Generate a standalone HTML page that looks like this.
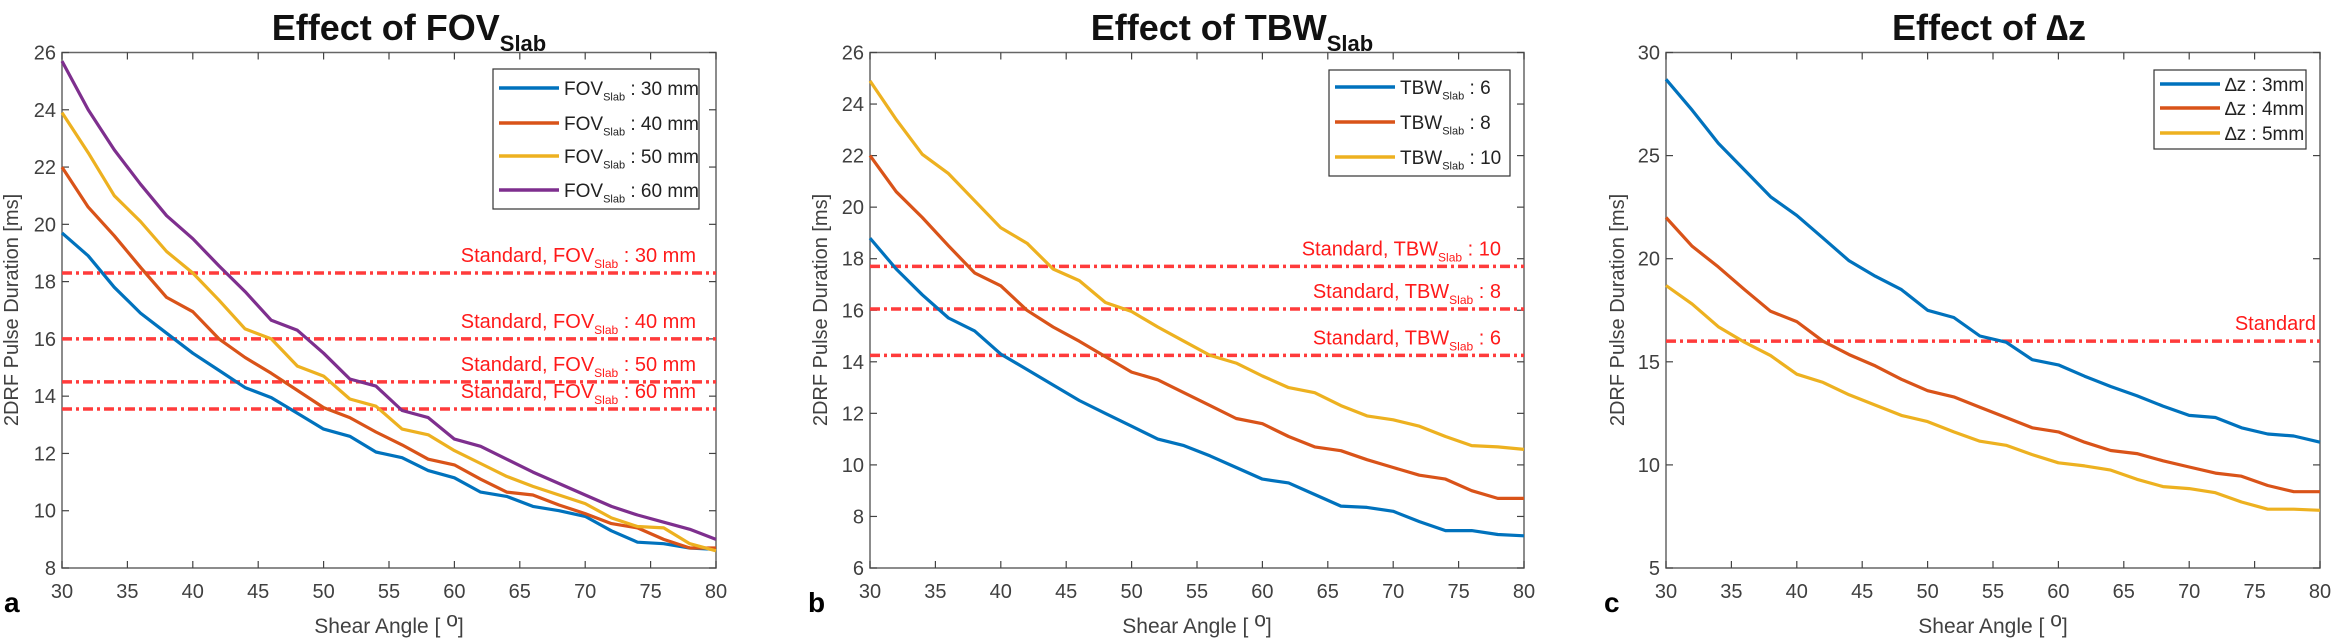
<!DOCTYPE html>
<html><head><meta charset="utf-8"><style>
html,body{margin:0;padding:0;background:#fff;}
svg{display:block;font-family:"Liberation Sans",sans-serif;}
</style></head><body>
<svg id="fig" width="2331" height="644" viewBox="0 0 2331 644" xmlns="http://www.w3.org/2000/svg"></svg>
<script>
const xValues = [30,32,34,36,38,40,42,44,46,48,50,52,54,56,58,60,62,64,66,68,70,72,74,76,78,80];
const xTicks = [30,35,40,45,50,55,60,65,70,75,80];

const aFov30 = [19.7,18.9,17.8,16.9,16.2,15.5,14.9,14.3,13.95,13.4,12.85,12.6,12.05,11.85,11.4,11.15,10.65,10.5,10.15,10.0,9.8,9.3,8.9,8.85,8.7,8.65];
const aFov40 = [22.0,20.6,19.6,18.5,17.45,16.95,16.0,15.35,14.8,14.2,13.6,13.25,12.75,12.3,11.8,11.6,11.1,10.65,10.55,10.2,9.9,9.55,9.4,9.0,8.7,8.7];
const aFov50 = [23.9,22.5,21.0,20.1,19.05,18.3,17.35,16.35,16.0,15.05,14.7,13.9,13.65,12.85,12.65,12.1,11.65,11.2,10.85,10.55,10.25,9.75,9.45,9.4,8.85,8.6];
const aFov60 = [25.7,24.0,22.6,21.4,20.3,19.5,18.55,17.65,16.65,16.3,15.5,14.6,14.35,13.5,13.25,12.5,12.25,11.8,11.35,10.95,10.55,10.15,9.85,9.6,9.35,9.0];
const aStandards = [18.3,16.0,14.5,13.55];
const aStdLabels = ["30 mm","40 mm","50 mm","60 mm"];
const aYTicks = [8,10,12,14,16,18,20,22,24,26];

const bTbw6 = [18.8,17.6,16.6,15.7,15.2,14.3,13.7,13.1,12.5,12.0,11.5,11.0,10.75,10.35,9.9,9.45,9.3,8.85,8.4,8.35,8.2,7.8,7.45,7.45,7.3,7.25];
const bTbw8 = [22.0,20.6,19.6,18.5,17.45,16.95,16.0,15.35,14.8,14.2,13.6,13.3,12.8,12.3,11.8,11.6,11.1,10.7,10.55,10.2,9.9,9.6,9.45,9.0,8.7,8.7];
const bTbw10 = [24.9,23.4,22.05,21.3,20.25,19.2,18.6,17.6,17.15,16.3,15.95,15.35,14.8,14.25,13.95,13.45,13.0,12.8,12.3,11.9,11.75,11.5,11.1,10.75,10.7,10.6];
const bStandards = [17.7,16.05,14.25];
const bStdLabels = ["10","8","6"];
const bYTicks = [6,8,10,12,14,16,18,20,22,24,26];

const cDz3 = [28.7,27.2,25.6,24.3,23.0,22.1,21.0,19.9,19.15,18.5,17.5,17.15,16.25,15.95,15.1,14.85,14.3,13.8,13.35,12.85,12.4,12.3,11.8,11.5,11.4,11.1];
const cDz4 = [22.0,20.6,19.6,18.5,17.45,16.95,16.0,15.35,14.8,14.15,13.6,13.3,12.8,12.3,11.8,11.6,11.1,10.7,10.55,10.2,9.9,9.6,9.45,9.0,8.7,8.7];
const cDz5 = [18.7,17.8,16.7,15.95,15.3,14.4,14.0,13.4,12.9,12.4,12.1,11.6,11.15,10.95,10.5,10.1,9.95,9.75,9.3,8.95,8.85,8.65,8.2,7.85,7.85,7.8];
const cStandards = [16.0];
const cYTicks = [5,10,15,20,25,30];

const BLUE="#0072BD", ORANGE="#D95319", YELLOW="#EDB120", PURPLE="#7E2F8E", RED="#ff3b3b";
const NS="http://www.w3.org/2000/svg";
const svg=document.getElementById('fig');
function mk(tag,attrs,parent){const e=document.createElementNS(NS,tag);for(const k in attrs)e.setAttribute(k,attrs[k]);(parent||svg).appendChild(e);return e;}
function txt(parent,x,y,size,fill,anchor,parts,weight){
  const t=mk('text',{x:x,y:y,'font-size':size,fill:fill,'text-anchor':anchor,'font-weight':weight||'normal'},parent);
  parts.forEach(p=>{const s=mk('tspan',{},t);s.textContent=p[0];if(p[1]==='sub'){s.setAttribute('font-size',Math.round(size*0.6));s.setAttribute('dy',size*0.3);}else if(p[1]==='up'){s.setAttribute('dy',-size*0.3);}});
  return t;
}

function panel(cfg){
  const g=mk('g',{});
  
  
  const L=cfg.left,R=cfg.left+654,T=52.5,B=568;
  const xs=v=>L+(v-30)/(80-30)*(R-L);
  const ys=v=>B-(v-cfg.ymin)/(cfg.ymax-cfg.ymin)*(B-T);
  // title
  const tt=txt(g,cfg.titleX,40,36,'#111','middle',cfg.title,'bold');
  
  
  // axes box
  const box=mk('rect',{x:L,y:T,width:R-L,height:B-T,fill:'none',stroke:'#666','stroke-width':1.5},g);
  
  
  xTicks.forEach(v=>{
    const x=xs(v);
    mk('line',{x1:x,y1:B,x2:x,y2:B-7,stroke:'#444','stroke-width':1.2},g);
    mk('line',{x1:x,y1:T,x2:x,y2:T+7,stroke:'#444','stroke-width':1.2},g);
    const l=txt(g,x,598,20,'#404040','middle',[[String(v)]]);
    
    
  });
  cfg.yTicks.forEach(v=>{
    const y=ys(v);
    mk('line',{x1:L,y1:y,x2:L+7,y2:y,stroke:'#444','stroke-width':1.2},g);
    mk('line',{x1:R,y1:y,x2:R-7,y2:y,stroke:'#444','stroke-width':1.2},g);
    const l=txt(g,L-6,y+7,20,'#404040','end',[[String(v)]]);
    
    
  });
  // standards
  cfg.standards.forEach((v,i)=>{
    const y=ys(v);
    const sl=mk('line',{x1:L,y1:y,x2:R,y2:y,stroke:RED,'stroke-width':3.5,'stroke-dasharray':'10,4,3,4'},g);
    
    
    const lab=txt(g,cfg.stdRight,y-11,20,'#ff1a1a','end',cfg.stdLabel(i));
    
    
  });
  // series
  cfg.series.forEach(s=>{
    const d=s.data.map((v,i)=>(i?'L':'M')+xs(xValues[i]).toFixed(1)+','+ys(v).toFixed(1)).join(' ');
    const p=mk('path',{d:d,fill:'none',stroke:s.color,'stroke-width':3.2,'stroke-linejoin':'round'},g);
    
    
  });
  // legend
  const lg=cfg.legend;
  const lr=mk('rect',{x:lg.x,y:lg.y,width:lg.w,height:lg.h,fill:'#fff',stroke:'#333','stroke-width':1.2},g);
  
  
  cfg.series.forEach((s,i)=>{
    const y=lg.rows[i];
    mk('line',{x1:lg.x+6,y1:y,x2:lg.x+66,y2:y,stroke:s.color,'stroke-width':3.5},g);
    const t=txt(g,lg.x+71,y+7,19,'#222','start',s.label);
    
    
  });
  // axis labels
  const yl=mk('text',{x:0,y:0,'font-size':20,fill:'#404040','text-anchor':'middle',transform:`translate(${cfg.ylabX},310) rotate(-90)`},g);
  yl.textContent='2DRF Pulse Duration [ms]';
  
  
  const xl=txt(g,L+327,633,21,'#404040','middle',[['Shear Angle [ '],['o','up'],[']','down']]);
  xl.lastChild.setAttribute('dy',21*0.3);
  
  
  const pl=txt(g,cfg.letterX,612,28,'#000','start',[[cfg.letter]],'bold');
  
  
}

panel({name:'panel-a-fov',left:62,ymin:8,ymax:26,yTicks:aYTicks,titleX:409,
  title:[['Effect of FOV'],['Slab','sub']],
  standards:aStandards,stdRight:696,
  stdLabel:i=>[['Standard, FOV'],['Slab','sub'],[' : '+aStdLabels[i],'back']],
  series:[{data:aFov30,color:BLUE,label:[['FOV'],['Slab','sub'],[' : 30 mm','back']]},
          {data:aFov40,color:ORANGE,label:[['FOV'],['Slab','sub'],[' : 40 mm','back']]},
          {data:aFov50,color:YELLOW,label:[['FOV'],['Slab','sub'],[' : 50 mm','back']]},
          {data:aFov60,color:PURPLE,label:[['FOV'],['Slab','sub'],[' : 60 mm','back']]}],
  legend:{x:493,y:69,w:206,h:140,rows:[88,123,156,190]},ylabX:18,letter:'a',letterX:4});
panel({name:'panel-b-tbw',left:870,ymin:6,ymax:26,yTicks:bYTicks,titleX:1232,
  title:[['Effect of TBW'],['Slab','sub']],
  standards:bStandards,stdRight:1501,
  stdLabel:i=>[['Standard, TBW'],['Slab','sub'],[' : '+bStdLabels[i],'back']],
  series:[{data:bTbw6,color:BLUE,label:[['TBW'],['Slab','sub'],[' : 6','back']]},
          {data:bTbw8,color:ORANGE,label:[['TBW'],['Slab','sub'],[' : 8','back']]},
          {data:bTbw10,color:YELLOW,label:[['TBW'],['Slab','sub'],[' : 10','back']]}],
  legend:{x:1329,y:70,w:181,h:106,rows:[87,122,157]},ylabX:827,letter:'b',letterX:808});
panel({name:'panel-c-dz',left:1666,ymin:5,ymax:30,yTicks:cYTicks,titleX:1989,
  title:[['Effect of ∆z']],
  standards:cStandards,stdRight:2316,
  stdLabel:i=>[['Standard']],
  series:[{data:cDz3,color:BLUE,label:[['∆z : 3mm']]},
          {data:cDz4,color:ORANGE,label:[['∆z : 4mm']]},
          {data:cDz5,color:YELLOW,label:[['∆z : 5mm']]}],
  legend:{x:2154,y:70,w:152,h:79,rows:[84,108,133]},ylabX:1624,letter:'c',letterX:1604});

// fix baseline after subscripts
document.querySelectorAll('tspan').forEach(s=>{
  const prev=s.previousSibling;
  if(prev && prev.getAttribute && prev.getAttribute('font-size') && !s.getAttribute('dy')){
    const fs=parseFloat(s.parentNode.getAttribute('font-size'));
    s.setAttribute('dy',-fs*0.3);
  }
});
</script>
</body></html>
